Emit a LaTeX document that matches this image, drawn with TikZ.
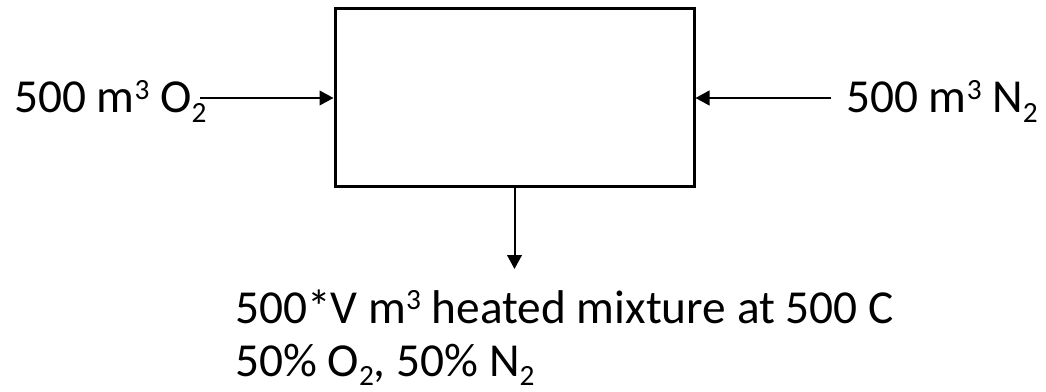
\documentclass[tikz,border=0pt]{standalone}
\usepackage{fontspec}
\setmainfont{Carlito}
\usetikzlibrary{arrows.meta}
\newcommand{\supr}[1]{\raisebox{0.28em}{\fontsize{22pt}{22pt}\selectfont #1}}
\newcommand{\subs}[1]{\raisebox{-0.2em}{\fontsize{22pt}{22pt}\selectfont #1}}
\tikzset{
  lbl/.style={anchor=base west, inner sep=0pt, font=\fontsize{35.5pt}{43pt}\selectfont},
  unit/.style={draw, line width=2.25pt, minimum width=269.25pt, minimum height=133.5pt, inner sep=0pt},
  flow/.style={line width=1.5pt, -{Triangle[length=10.5pt,width=11pt]}}
}
\begin{document}
\begin{tikzpicture}[x=0.75pt,y=-0.75pt]
  \useasboundingbox (0,0) rectangle (1046,392);
  \node[unit] (box) at (514.5,98) {};
  \node[lbl] (lo2) at (14,113) {500 m\supr{3} O\subs{2}};
  \node[lbl] (rn2) at (846,113) {500 m\supr{3} N\subs{2}};
  \node[lbl] (out1) at (235,323) {500*V m\supr{3} heated mixture at 500 C};
  \node[lbl] (out2) at (235,376) {50\% O\subs{2}, 50\% N\subs{2}};
  \coordinate (ls) at (200,98);
  \coordinate (rs) at (831,98);
  \coordinate (dt) at (514.5,269);
  \draw[flow] (ls) -- (box.west);
  \draw[flow] (rs) -- (box.east);
  \draw[flow] (box.south) -- (dt);
\end{tikzpicture}
\end{document}
